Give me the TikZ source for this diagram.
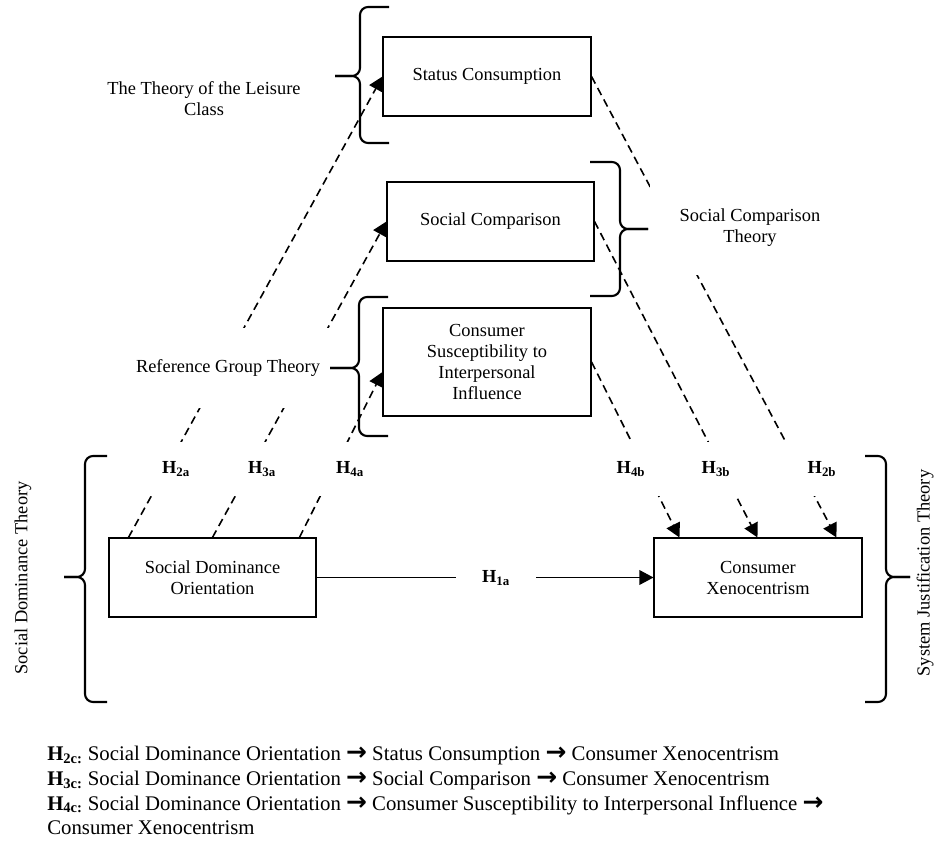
\documentclass[tikz,border=0pt]{standalone}
\usepackage{fontspec}
\setmainfont{Liberation Serif}
\newfontfamily\arrowfont[Scale=1.2]{DejaVu Sans}
\usetikzlibrary{arrows.meta,calc}
\newcommand{\bxfont}{\fontsize{13.8}{15.75}\selectfont}
\newcommand{\btfont}{\fontsize{15.6}{18.75}\selectfont}
\newcommand{\rarr}{{\arrowfont\bfseries →}}
\begin{document}
\begin{tikzpicture}[x=0.75pt,y=-0.75pt,
  box/.style={draw, line width=0.8pt, minimum width=156pt, minimum height=59.25pt, align=center, font=\bxfont, inner sep=2pt},
  hyp/.style={fill=white, font=\bxfont\bfseries, minimum width=60pt, minimum height=40.5pt, inner sep=0pt},
  dline/.style={line width=1.2pt, dash pattern=on 6pt off 3.75pt},
  sline/.style={line width=1pt},
  arr/.style={-{Triangle[length=10.5pt,width=11pt]}},
  brc/.style={line width=1.6pt, rounded corners=6pt},
  theory/.style={font=\bxfont, align=center, inner sep=0pt},
  note/.style={anchor=base west, inner sep=0pt, font=\btfont}]
\useasboundingbox (0,0) rectangle (935,841);

% boxes
\node[box] (stat) at (487,76.5) {Status Consumption};
\node[box, minimum width=155.25pt] (scomp) at (490.5,221.5) {Social Comparison};
\node[box, minimum height=81pt] (csii) at (487,362) {Consumer\\Susceptibility to\\Interpersonal\\Influence};
\node[box, minimum width=155.25pt] (sdo) at (212.5,577.5) {Social Dominance\\Orientation};
\node[box] (cx) at (758,577.5) {Consumer\\Xenocentrism};

% anchor points
\coordinate (a2) at ($(sdo.north west)+(20,0)$);
\coordinate (a3) at ($(sdo.north west)+(104,0)$);
\coordinate (a4) at ($(sdo.north west)+(191,0)$);
\coordinate (b4) at ($(cx.north west)+(26,0)$);
\coordinate (b3) at ($(cx.north west)+(104,0)$);
\coordinate (b2) at ($(cx.north west)+(183,0)$);
\coordinate (c4) at ($(csii.west)+(0,10)$);

% connectors
\draw[dline,arr] (a2) -- (stat.west);
\draw[dline,arr] (a3) -- (scomp.west);
\draw[dline,arr] (a4) -- (c4);
\draw[dline,arr] (csii.east) -- (b4);
\draw[dline,arr] (scomp.east) -- (b3);
\draw[dline,arr] (stat.east) -- (b2);
\draw[sline,arr] (sdo.east) -- (cx.west);

% hypothesis labels
\node[hyp] (h2a) at (176,469) {H\textsubscript{2a}};
\node[hyp] (h3a) at (262,469) {H\textsubscript{3a}};
\node[hyp] (h4a) at (350,469) {H\textsubscript{4a}};
\node[hyp] (h4b) at (631,469) {H\textsubscript{4b}};
\node[hyp] (h3b) at (716,469) {H\textsubscript{3b}};
\node[hyp] (h2b) at (822,469) {H\textsubscript{2b}};
\node[hyp, minimum height=20pt] (h1a) at (496,578) {H\textsubscript{1a}};

% theory labels
\node[theory] (tlc) at (204,99) {The Theory of the Leisure\\Class};
\node[theory, fill=white, minimum width=157.5pt, minimum height=60pt] (rgt) at (228,368) {Reference Group Theory};
\node[theory, fill=white, minimum width=150pt, minimum height=70pt] (sct) at (750,228) {Social Comparison\\Theory};
\node[theory, rotate=90] (sdt) at (23,578) {Social Dominance Theory};
\node[theory, rotate=90] (sjt) at (925,573) {System Justification Theory};

% braces
\draw[brc] (389,7) -- (360,7) -- (360,76) -- (335,76);
\draw[brc] (389,143) -- (360,143) -- (360,76) -- (335,76);
\draw[brc] (388,297) -- (359,297) -- (359,368) -- (330,368);
\draw[brc] (388,436) -- (359,436) -- (359,368) -- (330,368);
\draw[brc] (590,162) -- (620,162) -- (620,229) -- (648,229);
\draw[brc] (590,296) -- (620,296) -- (620,229) -- (648,229);
\draw[brc] (107,456) -- (85,456) -- (85,577) -- (64,577);
\draw[brc] (107,702) -- (85,702) -- (85,577) -- (64,577);
\draw[brc] (865,456) -- (886,456) -- (886,577) -- (910,577);
\draw[brc] (865,702) -- (886,702) -- (886,577) -- (910,577);

% notes
\node[note] (n1) at (47,760) {\textbf{H\textsubscript{2c:}} Social Dominance Orientation \rarr{} Status Consumption \rarr{} Consumer Xenocentrism};
\node[note] (n2) at (47,785) {\textbf{H\textsubscript{3c:}} Social Dominance Orientation \rarr{} Social Comparison \rarr{} Consumer Xenocentrism};
\node[note] (n3) at (47,810) {\textbf{H\textsubscript{4c:}} Social Dominance Orientation \rarr{} Consumer Susceptibility to Interpersonal Influence \rarr};
\node[note] (n4) at (47,834) {Consumer Xenocentrism};
\end{tikzpicture}
\end{document}
